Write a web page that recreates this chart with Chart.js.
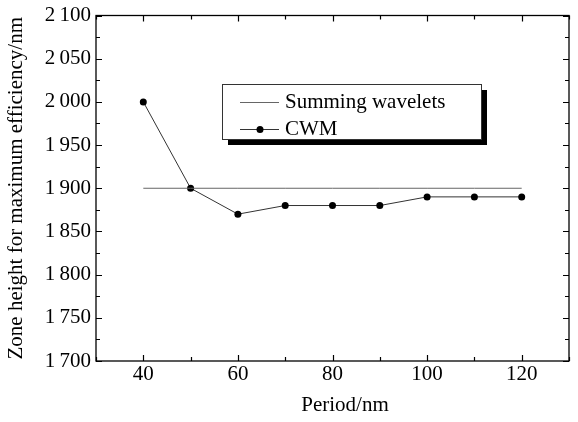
<!DOCTYPE html>
<html>
<head>
<meta charset="utf-8">
<script src="https://cdn.jsdelivr.net/npm/chart.js@4/dist/chart.umd.min.js"></script>
<style>
html,body{margin:0;padding:0;background:#fff;}
#wrap{width:578px;height:422px;position:relative;}
</style>
</head>
<body>
<div id="wrap"><canvas id="c" width="578" height="422"></canvas></div>
<script>
const periods = [40, 50, 60, 70, 80, 90, 100, 110, 120];
const summingWavelets = [1900, 1900, 1900, 1900, 1900, 1900, 1900, 1900, 1900];
const cwm = [2000, 1900, 1870, 1880, 1880, 1880, 1890, 1890, 1890];
const xMajorTicks = [40, 60, 80, 100, 120];
const seriesLabels = ['Summing wavelets', 'CWM'];
const xTitle = 'Period/nm';
const yTitle = 'Zone height for maximum efficiency/nm';

const FONT = '"Liberation Serif", "Times New Roman", serif';

function fmtThousands(v) {
  const s = String(Math.round(v));
  return s.length > 3 ? s.slice(0, s.length - 3) + '\u2009' + s.slice(-3) : s;
}

const frame = {
  id: 'frame',
  afterDatasetsDraw(chart) {
    const ctx = chart.ctx, a = chart.chartArea;
    const xs = chart.scales.x, ys = chart.scales.y;
    ctx.save();
    ctx.strokeStyle = '#000';
    ctx.lineWidth = 1.3;
    ctx.strokeRect(a.left, a.top, a.right - a.left, a.bottom - a.top);
    ctx.lineWidth = 1.2;
    ctx.beginPath();
    for (let v = xs.min; v <= xs.max; v += 10) {
      const px = Math.round(xs.getPixelForValue(v)) + 0.5;
      const len = (v % 20 === 0) ? 6 : 4;
      ctx.moveTo(px, a.bottom); ctx.lineTo(px, a.bottom - len);
      ctx.moveTo(px, a.top); ctx.lineTo(px, a.top + len);
    }
    for (let v = ys.min; v <= ys.max; v += 25) {
      const py = Math.round(ys.getPixelForValue(v)) + 0.5;
      const len = (v % 50 === 0) ? 6 : 4;
      ctx.moveTo(a.left, py); ctx.lineTo(a.left + len, py);
      ctx.moveTo(a.right, py); ctx.lineTo(a.right - len, py);
    }
    ctx.stroke();

    // x axis title
    ctx.fillStyle = '#000';
    ctx.font = '21px ' + FONT;
    ctx.textAlign = 'center';
    ctx.textBaseline = 'middle';
    ctx.fillText(xTitle, 345, 405);

    // legend box
    const bx = 222, by = 84, bw = 259, bh = 55, sh = 6;
    ctx.fillStyle = '#000';
    ctx.fillRect(bx + sh, by + sh, bw, bh);
    ctx.fillStyle = '#fff';
    ctx.fillRect(bx, by, bw, bh);
    ctx.lineWidth = 1;
    ctx.strokeStyle = '#333';
    ctx.strokeRect(bx + 0.5, by + 0.5, bw, bh);
    const ds = chart.data.datasets;
    const rows = [102, 129];
    ctx.font = '21px ' + FONT;
    ctx.textBaseline = 'middle';
    ctx.textAlign = 'left';
    ds.forEach((d, i) => {
      const y = rows[i] + 0.5;
      ctx.strokeStyle = d.borderColor;
      ctx.lineWidth = 1;
      ctx.beginPath();
      ctx.moveTo(240, y); ctx.lineTo(279, y);
      ctx.stroke();
      if (d.pointRadius > 0) {
        ctx.fillStyle = '#000';
        ctx.beginPath();
        ctx.arc(260, y, 3.5, 0, Math.PI * 2);
        ctx.fill();
      }
      ctx.fillStyle = '#000';
      ctx.fillText(d.label, 285, rows[i]);
    });
    ctx.restore();
  }
};

new Chart(document.getElementById('c'), {
  type: 'line',
  data: {
    datasets: [
      {
        label: seriesLabels[0],
        data: periods.map((p, i) => ({x: p, y: summingWavelets[i]})),
        borderColor: '#666',
        borderWidth: 1,
        pointRadius: 0,
        fill: false
      },
      {
        label: seriesLabels[1],
        data: periods.map((p, i) => ({x: p, y: cwm[i]})),
        borderColor: '#333',
        borderWidth: 1,
        pointRadius: 3.5,
        pointBackgroundColor: '#000',
        pointBorderColor: '#000',
        pointBorderWidth: 0,
        fill: false
      }
    ]
  },
  options: {
    responsive: false,
    animation: false,
    devicePixelRatio: 1,
    layout: { padding: { left: 0, top: 14, right: 9, bottom: 0 } },
    plugins: { legend: { display: false }, tooltip: { enabled: false } },
    scales: {
      x: {
        type: 'linear',
        min: 30, max: 130,
        grid: { display: false, drawTicks: false },
        border: { display: false },
        ticks: {
          stepSize: 10,
          autoSkip: false,
          maxRotation: 0,
          padding: 3,
          color: '#000',
          font: { family: FONT, size: 21, lineHeight: 1 },
          callback: v => xMajorTicks.includes(v) ? String(v) : ''
        },
        title: { display: false },
        afterFit: s => { s.height = 61; }
      },
      y: {
        min: 1700, max: 2100,
        grid: { display: false, drawTicks: false },
        border: { display: false },
        ticks: {
          stepSize: 50,
          padding: 5,
          color: '#000',
          font: { family: FONT, size: 21, lineHeight: 1 },
          callback: v => fmtThousands(v)
        },
        title: {
          display: true, text: yTitle, color: '#000',
          font: { family: FONT, size: 21 },
          padding: { top: 4, bottom: 0 }
        },
        afterFit: s => { s.width = 96; }
      }
    }
  },
  plugins: [frame]
});
</script>
</body>
</html>
